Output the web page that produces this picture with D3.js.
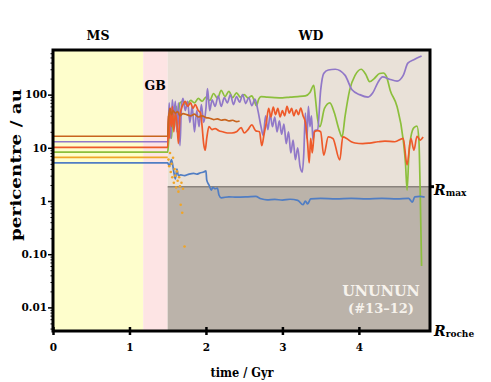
<!DOCTYPE html>
<html>
<head>
<meta charset="utf-8">
<script src="https://cdn.jsdelivr.net/npm/d3@7"></script>
<style>
  body { margin: 0; background: #fff; }
  text { font-family: "DejaVu Serif", serif; font-weight: bold; }
</style>
</head>
<body>
<div id="chart"></div>
<script>
var margin = { top: 50, left: 53, right: 61, bottom: 51 }
var width = 491 - margin.left - margin.right
var height = 382 - margin.top - margin.bottom

// phases (Gyr)
var phaseNames = ['MS', 'GB', 'WD']
var phaseStart = [0, 1.18, 1.5]
var phaseEnd = [1.18, 1.5, 4.93]
var rMax = 1.86

var xTicks = [0, 1, 2, 3, 4]
var yTicks = [0.01, 0.1, 1, 10, 100]
var yTickLabels = ['0.01', '0.10', '1', '10', '100']

// pericentre (au) of each planet, [time Gyr, value]
var green = [[0, 8.3], [1.5, 8.3], [1.51, 12], [1.53, 30], [1.55, 15], [1.57, 50], [1.59, 25], [1.61, 60], [1.63, 40],
  [1.66, 70], [1.7, 75], [1.75, 65], [1.8, 78], [1.85, 70], [1.9, 85], [1.95, 75], [2.0, 90], [2.05, 78],
  [2.1, 105], [2.15, 85], [2.2, 120], [2.25, 92], [2.3, 115], [2.35, 88], [2.4, 108], [2.45, 90], [2.5, 100],
  [2.55, 86], [2.6, 95], [2.63, 78], [2.66, 62], [2.69, 82], [2.72, 92], [2.8, 90], [2.9, 88], [3.0, 87],
  [3.1, 90], [3.2, 92], [3.3, 95], [3.36, 110], [3.41, 150], [3.43, 90], [3.46, 35], [3.49, 25], [3.55, 55],
  [3.62, 70], [3.68, 45], [3.74, 22], [3.78, 16], [3.82, 40], [3.88, 123], [3.95, 230], [4.03, 300], [4.09, 240],
  [4.14, 175], [4.2, 200], [4.27, 250], [4.32, 255], [4.36, 220], [4.41, 120], [4.5, 59], [4.58, 14], [4.61, 5],
  [4.63, 1.6], [4.655, 8], [4.68, 16], [4.72, 24], [4.76, 25.6], [4.785, 14], [4.8, 2], [4.82, 0.06]]

var purple = [[0, 13], [1.5, 13], [1.51, 30], [1.52, 70], [1.54, 15], [1.56, 80], [1.58, 40], [1.6, 75], [1.62, 20],
  [1.64, 70], [1.66, 11], [1.68, 60], [1.7, 85], [1.73, 50], [1.76, 75], [1.79, 30], [1.82, 60], [1.85, 20],
  [1.88, 50], [1.91, 25], [1.94, 65], [1.97, 30], [2.0, 55], [2.02, 130], [2.05, 50], [2.08, 80], [2.12, 60],
  [2.16, 95], [2.2, 60], [2.24, 88], [2.28, 70], [2.32, 100], [2.36, 65], [2.4, 92], [2.44, 72], [2.48, 100],
  [2.52, 68], [2.56, 88], [2.6, 62], [2.64, 82], [2.68, 50], [2.72, 25], [2.75, 17], [2.78, 40], [2.81, 22],
  [2.84, 42], [2.87, 25], [2.9, 38], [2.93, 20], [2.96, 32], [2.99, 18], [3.02, 28], [3.05, 12], [3.08, 20],
  [3.11, 8], [3.14, 14], [3.17, 6], [3.2, 10], [3.23, 4.5], [3.26, 3.5], [3.28, 8], [3.3, 45], [3.32, 15],
  [3.34, 60], [3.36, 25], [3.38, 40], [3.4, 14], [3.42, 21], [3.46, 22], [3.5, 120], [3.54, 250], [3.6, 290],
  [3.69, 300], [3.82, 230], [3.91, 123], [4.01, 100], [4.12, 90], [4.18, 107], [4.25, 170], [4.31, 215],
  [4.4, 195], [4.5, 180], [4.58, 230], [4.64, 390], [4.73, 460], [4.82, 530]]

var red = [[0, 10.2], [1.5, 10.2], [1.51, 40], [1.52, 15], [1.53, 55], [1.55, 25], [1.56, 60], [1.58, 20], [1.6, 45],
  [1.62, 30], [1.64, 12], [1.66, 40], [1.68, 55], [1.7, 65], [1.73, 75], [1.76, 60], [1.8, 70], [1.83, 55],
  [1.86, 65], [1.9, 50], [1.93, 45], [1.95, 25], [1.97, 12], [1.99, 9], [2.01, 15], [2.04, 25], [2.08, 22],
  [2.12, 23], [2.17, 21], [2.22, 20], [2.28, 19], [2.34, 19], [2.4, 20], [2.46, 24], [2.5, 19], [2.55, 22],
  [2.6, 27], [2.65, 21], [2.7, 20], [2.73, 11], [2.76, 18], [2.79, 30], [2.82, 55], [2.85, 38], [2.88, 58],
  [2.91, 42], [2.94, 55], [2.97, 38], [3.0, 50], [3.03, 40], [3.06, 60], [3.09, 45], [3.12, 55], [3.15, 40],
  [3.18, 52], [3.21, 42], [3.24, 56], [3.27, 40], [3.3, 30], [3.33, 12], [3.35, 5.2], [3.37, 15], [3.39, 8],
  [3.42, 20], [3.46, 21], [3.5, 20], [3.54, 7.3], [3.6, 16], [3.66, 15], [3.75, 5.9], [3.79, 16], [3.84, 15],
  [3.9, 13], [3.95, 12.3], [4.05, 12], [4.14, 12.3], [4.25, 13], [4.34, 13.4], [4.47, 13], [4.58, 15],
  [4.63, 4.75], [4.68, 15], [4.72, 9], [4.76, 16.5], [4.8, 14], [4.84, 16]]

var brown = [[0, 16.5], [1.5, 16.5], [1.51, 35], [1.53, 55], [1.55, 42], [1.57, 50], [1.6, 45], [1.63, 48],
  [1.66, 40], [1.7, 44], [1.75, 42], [1.8, 40], [1.85, 43], [1.9, 38], [1.95, 40], [2.0, 37], [2.05, 36],
  [2.1, 34], [2.15, 35], [2.2, 33], [2.25, 34], [2.3, 32], [2.35, 33], [2.4, 31], [2.44, 32]]

var orange = [[0, 6.6], [1.5, 6.6]]
var orangeScatter = [[1.51, 6], [1.52, 4.5], [1.53, 8], [1.54, 3.5], [1.55, 5], [1.56, 2.8], [1.57, 6.5], [1.58, 2.2],
  [1.59, 4], [1.6, 3], [1.61, 1.8], [1.62, 3.6], [1.63, 2.4], [1.64, 1.5], [1.65, 2.8], [1.66, 1.9],
  [1.67, 0.85], [1.68, 2.2], [1.69, 0.6], [1.7, 1.7], [1.72, 0.14]]

var blue = [[0, 5.2], [1.5, 5.2], [1.52, 4.5], [1.55, 6], [1.58, 3.5], [1.6, 2.6], [1.62, 4], [1.64, 3.0],
  [1.67, 3.1], [1.72, 3.0], [1.78, 3.2], [1.84, 3.3], [1.88, 3.2], [1.93, 3.4], [1.97, 3.5], [2.0, 3.7],
  [2.01, 2.5], [2.04, 2.0], [2.07, 1.6], [2.09, 1.8], [2.12, 1.7], [2.15, 1.75], [2.17, 1.3], [2.2, 1.15],
  [2.3, 1.2], [2.4, 1.18], [2.55, 1.2], [2.65, 1.22], [2.72, 1.1], [2.8, 1.05], [2.9, 1.07], [3.0, 1.04],
  [3.1, 1.08], [3.2, 1.03], [3.27, 0.85], [3.3, 1.0], [3.33, 0.88], [3.37, 1.1], [3.5, 1.12], [3.7, 1.1],
  [3.9, 1.12], [4.1, 1.1], [4.3, 1.12], [4.5, 1.1], [4.65, 1.12], [4.7, 0.95], [4.73, 1.2], [4.8, 1.22],
  [4.86, 1.18]]

var seriesData = [green, purple, red, brown, orange, blue]
var seriesColors = ['#8cbf3c', '#9178c8', '#ee5a2a', '#c8641e', '#f0a528', '#507dc3']

var svg = d3
  .select('#chart')
  .append('svg')
  .attr('width', 491)
  .attr('height', 382)

var container = svg
  .append('g')
  .attr('transform', 'translate(' + margin.left + ',' + margin.top + ')')

var xPositionScale = d3.scaleLinear().domain([0, 4.93]).range([0, width])
var yPositionScale = d3.scaleLog().domain([0.0036, 690]).range([height, 0])

// phase backgrounds
var phaseFill = ['#fefecc', '#fde4e4', '#e9e1d8']
container
  .selectAll('.phase')
  .data(phaseNames)
  .enter()
  .append('rect')
  .attr('x', (d, i) => xPositionScale(phaseStart[i]))
  .attr('width', (d, i) => xPositionScale(phaseEnd[i]) - xPositionScale(phaseStart[i]))
  .attr('y', 0)
  .attr('height', height)
  .attr('fill', (d, i) => phaseFill[i])

// below Rmax in the WD phase
container
  .append('rect')
  .attr('x', xPositionScale(phaseStart[2]))
  .attr('width', xPositionScale(phaseEnd[2]) - xPositionScale(phaseStart[2]))
  .attr('y', yPositionScale(rMax))
  .attr('height', height - yPositionScale(rMax))
  .attr('fill', '#bbb3aa')

container
  .append('line')
  .attr('x1', xPositionScale(phaseStart[2]))
  .attr('x2', width)
  .attr('y1', yPositionScale(rMax))
  .attr('y2', yPositionScale(rMax))
  .attr('stroke', '#8a837d')
  .attr('stroke-width', 1.5)

// phase labels
container
  .selectAll('.phase-label')
  .data(phaseNames)
  .enter()
  .append('text')
  .attr('x', (d, i) => d === 'GB' ? xPositionScale(phaseStart[i]) + 12 : (d === 'MS' ? 45 : 258))
  .attr('y', d => d === 'GB' ? 40 : -10)
  .attr('text-anchor', 'middle')
  .attr('font-size', 12.5)
  .text(d => d)

svg
  .append('clipPath')
  .attr('id', 'plot-clip')
  .append('rect')
  .attr('width', width)
  .attr('height', height)

var plot = container.append('g').attr('clip-path', 'url(#plot-clip)')

var line = d3
  .line()
  .x(d => xPositionScale(d[0]))
  .y(d => yPositionScale(d[1]))
  .curve(d3.curveMonotoneX)

plot
  .selectAll('.planet')
  .data(seriesData)
  .enter()
  .append('path')
  .attr('d', d => line(d))
  .attr('fill', 'none')
  .attr('stroke', (d, i) => seriesColors[i])
  .attr('stroke-width', 1.7)
  .attr('stroke-linejoin', 'round')

plot
  .selectAll('.orange-dot')
  .data(orangeScatter)
  .enter()
  .append('circle')
  .attr('cx', d => xPositionScale(d[0]))
  .attr('cy', d => yPositionScale(d[1]))
  .attr('r', 1.3)
  .attr('fill', '#f0a528')

// text inside the WD region
container
  .append('text')
  .attr('x', 328)
  .attr('y', 246)
  .attr('text-anchor', 'middle')
  .attr('font-size', 14.5)
  .attr('font-weight', 'normal')
  .attr('fill', '#f6f2ec')
  .text('UNUNUN')

container
  .append('text')
  .attr('x', 328)
  .attr('y', 263)
  .attr('text-anchor', 'middle')
  .attr('font-size', 13)
  .attr('font-weight', 'normal')
  .attr('fill', '#f6f2ec')
  .text('(#13–12)')

// axes
var yAxis = d3
  .axisLeft(yPositionScale)
  .tickValues(yTicks)
  .tickFormat((d, i) => yTickLabels[i])
  .tickSize(5)
  .tickPadding(1)
var yg = container.append('g').call(yAxis)
yg.select('.domain').remove()
yg.selectAll('text').attr('font-size', 10.5).attr('fill', '#000')
yg.selectAll('line').attr('stroke-width', 1.5)

var minorTicks = []
d3.range(-3, 3).forEach(function(p) {
  d3.range(2, 10).forEach(function(k) {
    var v = k * Math.pow(10, p)
    if (v > 0.0036 && v < 690) minorTicks.push(v)
  })
})
var yMinor = container
  .append('g')
  .call(d3.axisLeft(yPositionScale).tickValues(minorTicks).tickSize(2.5).tickFormat(''))
yMinor.select('.domain').remove()

var xAxis = d3
  .axisBottom(xPositionScale)
  .tickValues(xTicks)
  .tickFormat(d3.format('d'))
  .tickSize(4)
  .tickPadding(9)
var xg = container
  .append('g')
  .attr('transform', 'translate(0,' + height + ')')
  .call(xAxis)
xg.select('.domain').remove()
xg.selectAll('line').attr('y1', -4).attr('stroke-width', 2.5)
xg.selectAll('text').attr('font-size', 10.5).attr('fill', '#000')

// frame
container
  .append('rect')
  .attr('width', width)
  .attr('height', height)
  .attr('fill', 'none')
  .attr('stroke', '#000')
  .attr('stroke-width', 3)

// Rmax tick on the right
container
  .append('line')
  .attr('x1', width)
  .attr('x2', width + 4)
  .attr('y1', yPositionScale(rMax))
  .attr('y2', yPositionScale(rMax))
  .attr('stroke', '#000')
  .attr('stroke-width', 3)

var rLabels = [['max', yPositionScale(rMax) + 8], ['roche', height + 5]]
rLabels.forEach(function(r) {
  var t = container
    .append('text')
    .attr('x', width + 4)
    .attr('y', r[1])
    .attr('font-size', 14)
  t.append('tspan').attr('font-style', 'italic').text('R')
  t.append('tspan').attr('font-size', 9).attr('dy', 1).text(r[0])
})

// axis titles
container
  .append('text')
  .attr('x', 189)
  .attr('y', 327)
  .attr('text-anchor', 'middle')
  .attr('font-size', 13)
  .attr('textLength', 63)
  .attr('lengthAdjust', 'spacingAndGlyphs')
  .text('time / Gyr')

container
  .append('text')
  .attr('transform', 'translate(-32,' + 115 + ') rotate(-90)')
  .attr('text-anchor', 'middle')
  .attr('font-size', 15)
  .attr('textLength', 152)
  .attr('lengthAdjust', 'spacingAndGlyphs')
  .text('pericentre / au')
</script>
</body>
</html>
